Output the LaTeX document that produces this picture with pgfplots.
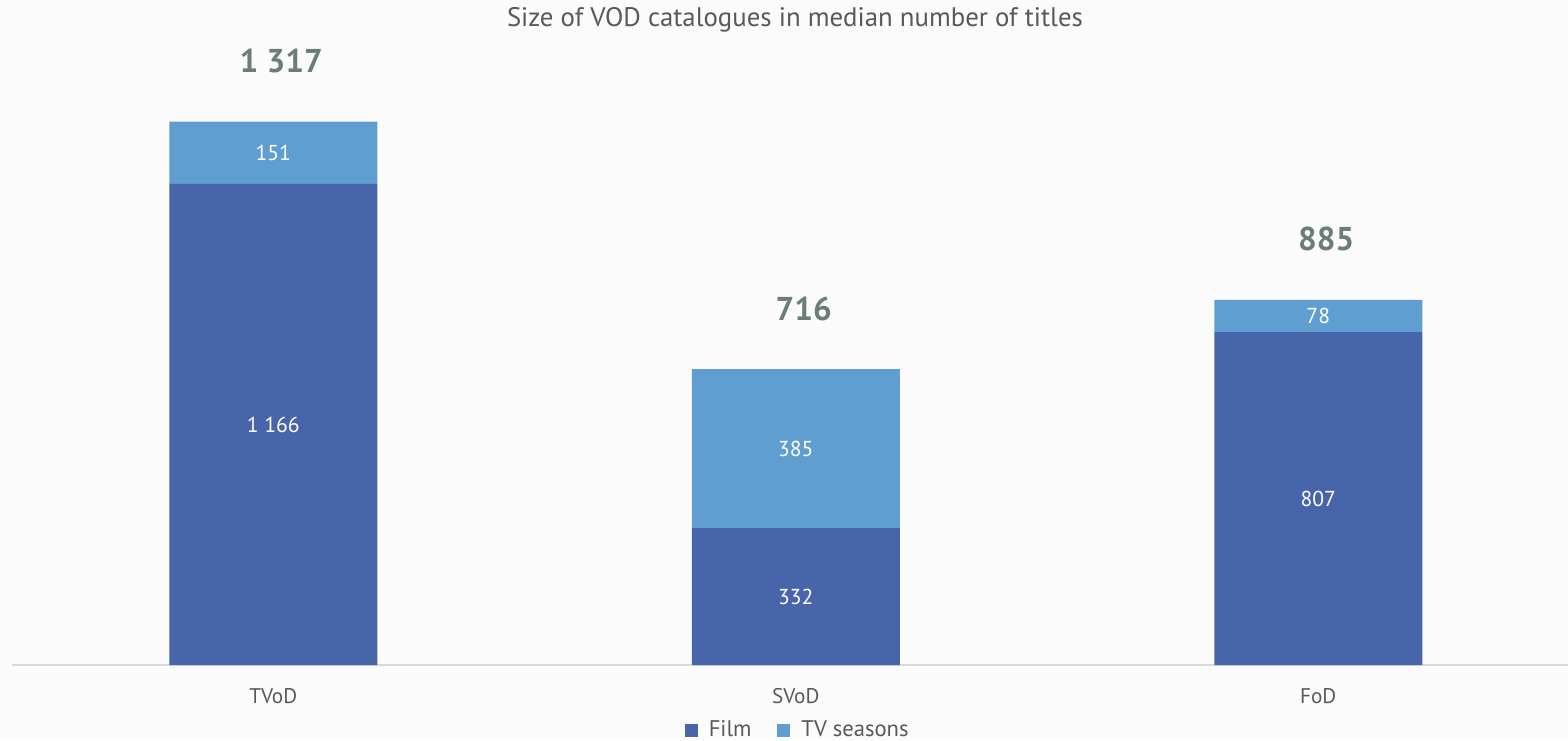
\documentclass[border=0pt]{standalone}
\usepackage{pgfplots}
\pgfplotsset{compat=1.18}
\usepackage{fontspec}
\setmainfont{PT Sans}
\definecolor{filmc}{HTML}{4865AC}
\definecolor{tvc}{HTML}{609DD1}
\definecolor{totc}{HTML}{6C7D78}
\definecolor{txtc}{HTML}{595959}
\definecolor{bgc}{HTML}{FBFBFB}
\definecolor{axc}{HTML}{D9D9D9}
\begin{document}
\begin{tikzpicture}
\fill[bgc] (-6pt,-37.5pt) rectangle (778pt,332.5pt);
\begin{axis}[
  at={(0pt,0pt)}, anchor=south west,
  scale only axis, width=778pt, height=292.5pt,
  ymin=0, ymax=1418, xmin=-0.5, xmax=2.478,
  enlargelimits=false,
  ybar stacked, bar width=104pt,
  axis x line*=bottom, axis y line=none,
  x axis line style={draw=axc, line width=1pt},
  xtick={0,1,2}, xticklabels={TVoD,SVoD,FoD},
  ytick=\empty,
  major tick length=0pt,
  xticklabel style={anchor=base, yshift=-19pt, font=\fontsize{10.6}{12}\selectfont, text=txtc},
  clip=false,
  legend style={at={(axis description cs:0.503,0)}, anchor=center, xshift=2pt, yshift=-32.5pt, draw=none, fill=none, legend columns=2, font=\fontsize{11.3}{13}\selectfont, text=txtc,
    /tikz/every odd column/.append style={column sep=3.5pt},
    /tikz/every even column/.append style={column sep=11pt}},
  legend image code/.code={\fill[#1] (0pt,-3.25pt) rectangle (6.5pt,3.25pt);},
]
\addplot[fill=filmc, draw=none] coordinates {(0,1166) (1,332) (2,807)};
\addlegendentry{Film}
\addplot[fill=tvc, draw=none] coordinates {(0,151) (1,385) (2,78)};
\addlegendentry{TV seasons}
\end{axis}
\begin{axis}[
  at={(0pt,0pt)}, anchor=south west,
  scale only axis, width=778pt, height=292.5pt,
  ymin=0, ymax=1418, xmin=-0.5, xmax=2.478,
  enlargelimits=false, hide axis, clip=false,
]
% segment labels at the middle of each segment
\addplot[only marks, mark=none, nodes near coords, point meta=explicit symbolic,
  every node near coord/.style={anchor=center, text=white, font=\fontsize{10.8}{12}\selectfont}]
  coordinates {(0,583)[1 166] (1,166)[332] (2,403.5)[807]
               (0,1241.5)[151] (1,524.5)[385] (2,846)[78]};
% totals above the bars
\addplot[only marks, mark=none, nodes near coords, point meta=explicit symbolic,
  every node near coord/.style={anchor=base, xshift=4pt, yshift=24.5pt, text=totc, font=\bfseries\fontsize{16.5}{18}\selectfont}]
  coordinates {(0,1317)[1 317] (1,716)[716] (2,885)[885]};
\end{axis}
\node[anchor=base, text=txtc, font=\fontsize{13.4}{16}\selectfont] at (391.5pt,319pt) {Size of VOD catalogues in median number of titles};
\pgfresetboundingbox
\path (-6pt,-37.5pt) rectangle (778pt,332.5pt);
\end{tikzpicture}
\end{document}
